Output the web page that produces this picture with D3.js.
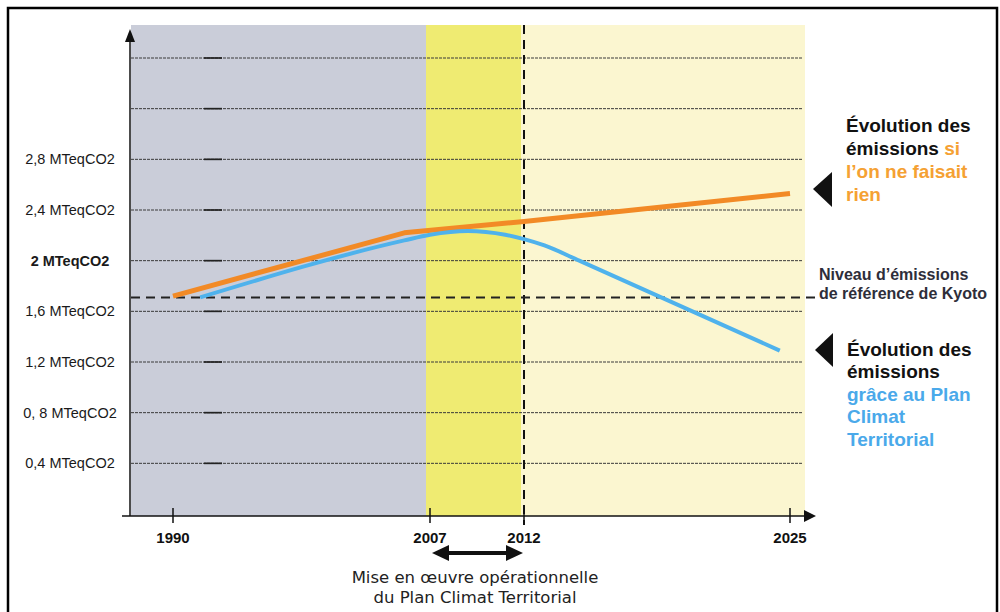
<!DOCTYPE html>
<html>
<head>
<meta charset="utf-8">
<script src="https://cdn.jsdelivr.net/npm/d3@7"></script>
<style>
  body { margin: 0; background: #ffffff; }
  text { font-family: "Liberation Sans", Arial, sans-serif; }
</style>
</head>
<body>
<div id="container"></div>
<script>
// ---- data ----
let axisYears = [1990, 2007, 2012, 2025];
let gridValues = [0.4, 0.8, 1.2, 1.6, 2, 2.4, 2.8, 3.2, 3.6];
let tickLabels = ["0,4 MTeqCO2", "0, 8 MTeqCO2", "1,2 MTeqCO2", "1,6 MTeqCO2", "2 MTeqCO2", "2,4 MTeqCO2", "2,8 MTeqCO2", "", ""];
let kyotoLevel = 1.71;

// "si l'on ne faisait rien"
let rienYears = [1990, 2005.3, 2012, 2025];
let rienValues = [1.72, 2.22, 2.31, 2.53];

// "grace au Plan Climat Territorial"
let planYears = [1991.8, 2005.3, 2007, 2009, 2011, 2012, 2013, 2014.7, 2024.5];
let planValues = [1.71, 2.16, 2.205, 2.235, 2.205, 2.17, 2.12, 2.0, 1.29];

let w = 1000;
let h = 612;

let viz = d3.select("#container")
  .append("svg")
    .attr("width", w)
    .attr("height", h);

// frame
viz.append("rect")
  .attr("x", 8).attr("y", 8)
  .attr("width", 989).attr("height", 620)
  .attr("fill", "none")
  .attr("stroke", "black")
  .attr("stroke-width", 2.5);

let plotLeft = 131;
let plotRight = 805;
let plotTop = 25;
let axisY = 516;

// years are not evenly spread on the original axis
let x = d3.scaleLinear().domain(axisYears).range([173, 430, 524, 790]);
let y = d3.scaleLinear().domain([0, 3.6]).range([514, 58]);

// background periods
viz.append("rect")
  .attr("x", plotLeft).attr("y", plotTop)
  .attr("width", x(2007) - 4 - plotLeft).attr("height", axisY - plotTop)
  .attr("fill", "#cacdd9");
viz.append("rect")
  .attr("x", x(2007) - 4).attr("y", plotTop)
  .attr("width", x(2012) - x(2007) + 1).attr("height", axisY - plotTop)
  .attr("fill", "#efeb72");
viz.append("rect")
  .attr("x", x(2012) - 3).attr("y", plotTop)
  .attr("width", plotRight - x(2012) + 3).attr("height", axisY - plotTop)
  .attr("fill", "#fbf6d0");

// gridlines
let grid = viz.selectAll(".grid").data(gridValues).enter()
  .append("g")
    .attr("class", "grid")
    .attr("transform", function(d){ return "translate(0," + y(d) + ")"; });
grid.append("line")
  .attr("x1", plotLeft).attr("x2", plotRight - 2)
  .attr("stroke", "#3a3a3a")
  .attr("stroke-width", 1)
  .attr("stroke-dasharray", "3,1");
grid.append("line")
  .attr("x1", 204).attr("x2", 222)
  .attr("stroke", "#222")
  .attr("stroke-width", 1.7);
grid.append("text")
  .text(function(d, i){ return tickLabels[i]; })
  .attr("x", 70)
  .attr("dy", "0.35em")
  .attr("text-anchor", "middle")
  .attr("font-size", "14.5px")
  .attr("font-weight", function(d){ return d == 2 ? "bold" : "normal"; })
  .attr("fill", "#1a1a1a");

// 2012 dashed line
viz.append("line")
  .attr("x1", x(2012)).attr("x2", x(2012))
  .attr("y1", plotTop).attr("y2", axisY + 9)
  .attr("stroke", "#111")
  .attr("stroke-width", 2)
  .attr("stroke-dasharray", "9,6");

// kyoto reference
viz.append("line")
  .attr("x1", plotLeft).attr("x2", 815)
  .attr("y1", y(kyotoLevel)).attr("y2", y(kyotoLevel))
  .attr("stroke", "#222")
  .attr("stroke-width", 2)
  .attr("stroke-dasharray", "9,6");

// series lines
let line = d3.line()
  .x(function(d){ return x(d[0]); })
  .y(function(d){ return y(d[1]); });

viz.append("path")
  .datum(rienYears.map(function(d, i){ return [d, rienValues[i]]; }))
  .attr("d", line)
  .attr("fill", "none")
  .attr("stroke", "#f28a26")
  .attr("stroke-width", 5)
  .attr("stroke-linejoin", "round");

viz.append("path")
  .datum(planYears.map(function(d, i){ return [d, planValues[i]]; }))
  .attr("d", line.curve(d3.curveMonotoneX))
  .attr("fill", "none")
  .attr("stroke", "#4fb2ec")
  .attr("stroke-width", 4);

// axes with arrows
viz.append("line")
  .attr("x1", 130).attr("x2", 130)
  .attr("y1", axisY).attr("y2", 38)
  .attr("stroke", "#111").attr("stroke-width", 1.5);
viz.append("path")
  .attr("d", "M130,29 L125,42 L135,42 Z")
  .attr("fill", "#111");
viz.append("line")
  .attr("x1", 122).attr("x2", 808)
  .attr("y1", axisY).attr("y2", axisY)
  .attr("stroke", "#111").attr("stroke-width", 1.5);
viz.append("path")
  .attr("d", "M816," + axisY + " L804," + (axisY - 6) + " L804," + (axisY + 6) + " Z")
  .attr("fill", "#111");

let xticks = viz.selectAll(".xtick").data(axisYears).enter()
  .append("g")
    .attr("class", "xtick")
    .attr("transform", function(d){ return "translate(" + x(d) + ",0)"; });
xticks.append("line")
  .attr("y1", axisY - 8).attr("y2", axisY + 7)
  .attr("stroke", "#111").attr("stroke-width", 1.5);
xticks.append("text")
  .text(function(d){ return d; })
  .attr("y", 543)
  .attr("text-anchor", "middle")
  .attr("font-size", "15px")
  .attr("font-weight", "bold")
  .attr("fill", "#111");

// double arrow for the 2007-2012 period
let arrowY = 553;
viz.append("line")
  .attr("x1", x(2007) + 14).attr("x2", x(2012) - 14)
  .attr("y1", arrowY).attr("y2", arrowY)
  .attr("stroke", "#111").attr("stroke-width", 4);
viz.append("path")
  .attr("d", "M" + (x(2007) + 2) + "," + arrowY + " l17,-8 l0,16 Z")
  .attr("fill", "#111");
viz.append("path")
  .attr("d", "M" + (x(2012) - 1) + "," + arrowY + " l-17,-8 l0,16 Z")
  .attr("fill", "#111");

let caption = viz.append("text")
  .attr("x", 475)
  .attr("text-anchor", "middle")
  .attr("font-size", "16.5px")
  .attr("fill", "#222")
  .style("font-family", "'DejaVu Sans', Verdana, sans-serif");
caption.append("tspan").attr("x", 475).attr("y", 583).text("Mise en œuvre opérationnelle");
caption.append("tspan").attr("x", 475).attr("y", 603).text("du Plan Climat Territorial");

// right side notes
viz.append("path").attr("d", "M813,189 L832,172 L832,207 Z").attr("fill", "#111");
viz.append("path").attr("d", "M815,350 L833,333 L833,367 Z").attr("fill", "#111");

let note1 = viz.append("text")
  .attr("font-size", "19px").attr("font-weight", "bold").attr("fill", "#111");
note1.append("tspan").attr("x", 846).attr("y", 132).text("Évolution des");
note1.append("tspan").attr("x", 846).attr("y", 155).text("émissions ");
note1.append("tspan").attr("fill", "#f5a133").text("si");
note1.append("tspan").attr("x", 846).attr("y", 178).attr("fill", "#f5a133").text("l’on ne faisait");
note1.append("tspan").attr("x", 846).attr("y", 201).attr("fill", "#f5a133").text("rien");

let kyoto = viz.append("text")
  .attr("font-size", "16px").attr("font-weight", "bold").attr("fill", "#2e2e3a");
kyoto.append("tspan").attr("x", 819).attr("y", 280).text("Niveau d’émissions");
kyoto.append("tspan").attr("x", 819).attr("y", 299).text("de référence de Kyoto");

let note2 = viz.append("text")
  .attr("font-size", "19px").attr("font-weight", "bold").attr("fill", "#111");
note2.append("tspan").attr("x", 847).attr("y", 356).text("Évolution des");
note2.append("tspan").attr("x", 847).attr("y", 378).text("émissions");
note2.append("tspan").attr("x", 847).attr("y", 401).attr("fill", "#4aa9ea").text("grâce au Plan");
note2.append("tspan").attr("x", 847).attr("y", 423).attr("fill", "#4aa9ea").text("Climat");
note2.append("tspan").attr("x", 847).attr("y", 446).attr("fill", "#4aa9ea").text("Territorial");
</script>
</body>
</html>
